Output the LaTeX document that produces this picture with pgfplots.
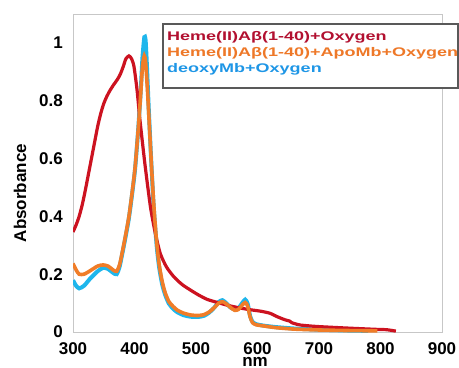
\documentclass[border=0pt]{standalone}
\usepackage{pgfplots}
\pgfplotsset{compat=1.18}
\usepackage{fontspec}
\setmainfont{Liberation Sans}
\definecolor{cred}{RGB}{204,18,32}
\definecolor{corange}{RGB}{240,125,40}
\definecolor{ccyan}{RGB}{30,182,236}
\definecolor{tred}{RGB}{178,16,48}
\definecolor{torange}{RGB}{238,120,40}
\definecolor{tcyan}{RGB}{30,150,230}
\begin{document}
\begin{tikzpicture}
\useasboundingbox (-73bp,-36bp) rectangle (386bp,332bp);
\begin{axis}[
  at={(0,0)}, anchor=south west,
  scale only axis, width=369bp, height=318bp,
  xmin=300, xmax=900, ymin=0, ymax=1.1,
  xtick={300,400,500,600,700,800,900},
  ytick={0,0.2,0.4,0.6,0.8,1},
  major tick length=0pt,
  axis line style={draw=black!22, line width=0.8bp},
  /pgf/number format/assume math mode=true,
  tick label style={font=\fontsize{17bp}{20bp}\selectfont\bfseries},
  xticklabel style={anchor=north, inner sep=0pt, yshift=-10bp},
  yticklabel style={anchor=east, inner sep=0pt, xshift=-10bp},
]
% deoxyMb + Oxygen
\addplot[ccyan, line width=4bp, smooth, tension=0.4] coordinates {
(300,0.179)(305,0.160)(310,0.151)(318,0.160)(328,0.185)(340,0.210)(349,0.222)(357,0.218)
(365,0.205)(371,0.200)(376,0.228)(381,0.280)(386,0.335)(391,0.395)(396,0.475)(401,0.565)
(406,0.700)(410,0.830)(413,0.950)(416,1.020)(418,1.010)(420,0.930)(423,0.780)(427,0.600)
(431,0.440)(436,0.300)(440,0.225)(445,0.165)(450,0.128)(456,0.098)(463,0.080)(470,0.068)
(480,0.058)(491,0.053)(503,0.052)(513,0.056)(522,0.068)(530,0.085)(537,0.104)(543,0.110)
(549,0.100)(556,0.085)(563,0.078)(569,0.082)(575,0.100)(580,0.112)(584,0.098)(588,0.055)
(592,0.035)(598,0.027)(610,0.022)(630,0.017)(660,0.012)(700,0.008)(750,0.005)(780,0.004)
};
% Heme(II)Abeta + Oxygen
\addplot[cred, line width=3.2bp, smooth, tension=0.4] coordinates {
(300,0.346)(305,0.370)(310,0.400)(315,0.440)(320,0.490)(325,0.545)(330,0.600)(335,0.655)
(340,0.710)(345,0.755)(350,0.790)(355,0.815)(360,0.835)(366,0.855)(372,0.873)(377,0.892)
(382,0.920)(386,0.945)(391,0.955)(395,0.946)(399,0.920)
(404,0.840)(409,0.731)(417,0.580)(426,0.432)(434,0.340)(442,0.271)(452,0.225)(464,0.191)
(477,0.165)(491,0.145)(505,0.127)(518,0.113)(530,0.105)(540,0.099)(552,0.092)(567,0.085)
(585,0.078)(605,0.072)(620,0.065)(632,0.053)(645,0.042)(652,0.038)(656,0.032)(662,0.028)
(670,0.024)(697,0.019)(752,0.013)(795,0.009)(810,0.008)(825,0.003)
};
% Heme(II)Abeta + ApoMb + Oxygen
\addplot[corange, line width=3.6bp, smooth, tension=0.4] coordinates {
(300,0.237)(305,0.215)(310,0.200)(318,0.200)(328,0.212)(340,0.228)(349,0.232)(357,0.228)
(365,0.215)(371,0.210)(376,0.235)(381,0.285)(386,0.340)(391,0.400)(396,0.480)(401,0.570)
(406,0.700)(410,0.820)(413,0.920)(416,0.955)(418,0.935)(421,0.840)(424,0.720)(428,0.560)
(432,0.420)(436,0.310)(440,0.235)(445,0.175)(450,0.135)(456,0.105)(463,0.088)(470,0.075)
(480,0.065)(491,0.059)(503,0.057)(513,0.060)(522,0.070)(530,0.085)(537,0.100)(543,0.105)
(549,0.098)(556,0.085)(563,0.075)(569,0.078)(575,0.093)(580,0.102)(584,0.090)(588,0.052)
(592,0.032)(598,0.025)(610,0.021)(630,0.015)(660,0.010)(700,0.007)(750,0.005)(795,0.004)
};
\end{axis}
% legend
\draw[draw=black!65, line width=1.4bp, fill=white] (90bp,244bp) rectangle (385bp,308bp);
\node[anchor=west, inner sep=0pt, text=tred] at (94bp,295bp)
  {\scalebox{1.44}[1]{\fontsize{12.5bp}{14bp}\selectfont\bfseries Heme(II)Aβ(1-40)+Oxygen}};
\node[anchor=west, inner sep=0pt, text=torange] at (94bp,279bp)
  {\scalebox{1.44}[1]{\fontsize{12.5bp}{14bp}\selectfont\bfseries Heme(II)Aβ(1-40)+ApoMb+Oxygen}};
\node[anchor=west, inner sep=0pt, text=tcyan] at (94bp,263bp)
  {\scalebox{1.44}[1]{\fontsize{12.5bp}{14bp}\selectfont\bfseries deoxyMb+Oxygen}};
% axis labels
\node[rotate=90, inner sep=0pt, font=\fontsize{17bp}{20bp}\selectfont\bfseries] at (-53bp,139bp) {Absorbance};
\node[anchor=base, inner sep=0pt, font=\fontsize{17bp}{20bp}\selectfont\bfseries] at (182bp,-34bp) {nm};
\end{tikzpicture}
\end{document}
